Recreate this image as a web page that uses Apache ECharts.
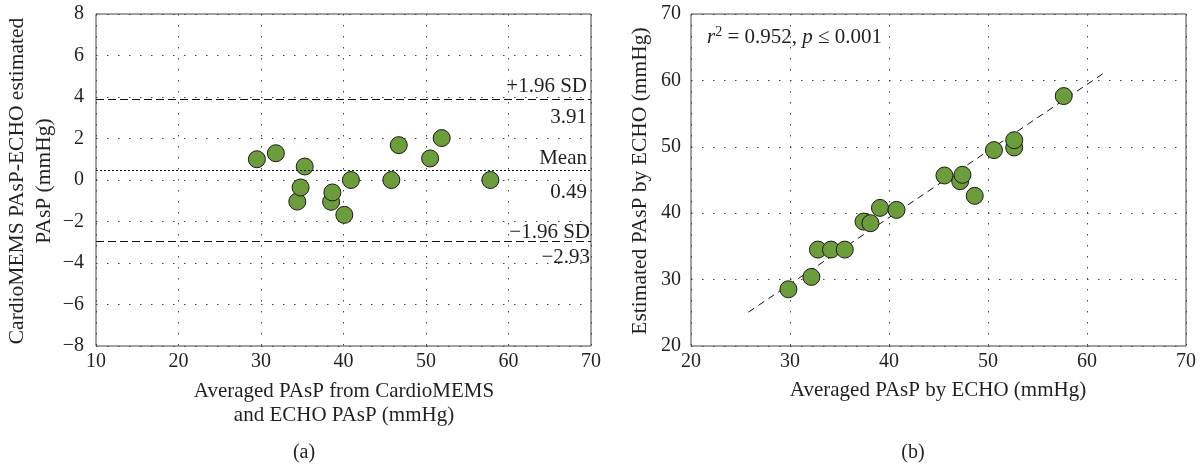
<!DOCTYPE html>
<html>
<head>
<meta charset="utf-8">
<script src="https://cdn.jsdelivr.net/npm/echarts@6/dist/echarts.min.js"></script>
<style>
html,body{margin:0;padding:0;background:#fff;}
#c{width:1202px;height:465px;}
</style>
</head>
<body>
<div id="c"></div>
<script>
// Panel (a): Bland-Altman
const baX = [29.5, 31.8, 35.3, 34.4, 34.8, 38.5, 38.65, 40.1, 40.9, 45.8, 46.7, 50.5, 51.9, 57.8];
const baY = [1.0, 1.29, 0.65, -1.04, -0.36, -1.05, -0.6, -1.68, 0, 0, 1.68, 1.04, 2.02, 0];
const upperLoA = 3.91;
const meanDiff = 0.49;
const lowerLoA = -2.93;

// Panel (b): correlation
const corrX = [29.84, 32.16, 32.82, 34.14, 35.53, 37.43, 38.13, 39.09, 40.76, 45.6, 47.19, 47.42, 48.66, 50.6, 52.65, 52.65, 57.65];
const corrY = [28.54, 30.4, 34.52, 34.52, 34.52, 38.74, 38.49, 40.8, 40.5, 45.68, 44.82, 45.78, 42.61, 49.5, 49.9, 51.0, 57.64];
const fitLine = [[25.8, 25.1], [61.6, 61.0]];

const FONT = '"Liberation Serif", "DejaVu Serif", serif';
const GREEN = '#6c9c3c';
const TXT = '#231f20';

const pairs = (xs, ys) => xs.map((x, i) => [x, ys[i]]);
const minusFmt = v => String(v).replace('-', '\u2212');

const gridLine = {show: true, lineStyle: {color: '#444', type: [1.5, 9.5], width: 1}};
const axisBase = {
  axisLine: {show: false},
  axisTick: {show: false},
  splitLine: gridLine,
  axisLabel: {color: TXT, fontFamily: FONT, fontSize: 20, formatter: minusFmt}
};
const hidden = {color: 'rgba(0,0,0,0)', width: 0};

const chart = echarts.init(document.getElementById('c'));
chart.setOption({
  backgroundColor: '#fff',
  animation: false,
  grid: [
    {left: 96, top: 14, width: 495, height: 332, show: true, borderColor: '#444', borderWidth: 1, backgroundColor: 'transparent'},
    {left: 691, top: 14, width: 495, height: 332, show: true, borderColor: '#444', borderWidth: 1, backgroundColor: 'transparent'}
  ],
  xAxis: [
    Object.assign({}, axisBase, {gridIndex: 0, type: 'value', min: 10, max: 70, interval: 10,
      axisLabel: Object.assign({}, axisBase.axisLabel, {margin: 6})}),
    Object.assign({}, axisBase, {gridIndex: 1, type: 'value', min: 20, max: 70, interval: 10,
      axisLabel: Object.assign({}, axisBase.axisLabel, {margin: 6})})
  ],
  yAxis: [
    Object.assign({}, axisBase, {gridIndex: 0, type: 'value', min: -8, max: 8, interval: 2,
      axisLabel: Object.assign({}, axisBase.axisLabel, {margin: 12})}),
    Object.assign({}, axisBase, {gridIndex: 1, type: 'value', min: 20, max: 70, interval: 10,
      axisLabel: Object.assign({}, axisBase.axisLabel, {margin: 10})})
  ],
  series: [
    {
      type: 'scatter', xAxisIndex: 0, yAxisIndex: 0, z: 3,
      data: pairs(baX, baY),
      symbolSize: 17,
      itemStyle: {color: GREEN, borderColor: '#1a1a1a', borderWidth: 1, opacity: 1},
      markLine: {
        symbol: 'none', silent: true, animation: false,
        label: {fontFamily: FONT, fontSize: 21, color: TXT},
        data: [
          {yAxis: upperLoA, lineStyle: {color: '#111', type: [8, 4], width: 1},
            label: {formatter: '+1.96 SD', position: 'insideEndTop', distance: [4, 2]}},
          {yAxis: upperLoA, lineStyle: hidden,
            label: {formatter: upperLoA.toFixed(2), position: 'insideEndBottom', distance: [4, 8], color: TXT}},
          {yAxis: meanDiff, lineStyle: {color: '#111', type: [2, 2], width: 1},
            label: {formatter: 'Mean', position: 'insideEndTop', distance: [4, 1]}},
          {yAxis: meanDiff, lineStyle: hidden,
            label: {formatter: meanDiff.toFixed(2), position: 'insideEndBottom', distance: [4, 12], color: TXT}},
          {yAxis: lowerLoA, lineStyle: {color: '#111', type: [8, 4], width: 1},
            label: {formatter: '\u22121.96 SD', position: 'insideEndTop', distance: [1, -2]}},
          {yAxis: lowerLoA, lineStyle: hidden,
            label: {formatter: minusFmt(lowerLoA.toFixed(2)), position: 'insideEndBottom', distance: [1, 6], color: TXT}}
        ]
      }
    },
    {
      type: 'line', xAxisIndex: 1, yAxisIndex: 1, z: 2,
      data: fitLine, symbol: 'none', silent: true,
      lineStyle: {color: '#111', type: [7, 5], width: 1}
    },
    {
      type: 'scatter', xAxisIndex: 1, yAxisIndex: 1, z: 3,
      data: pairs(corrX, corrY),
      symbolSize: 17,
      itemStyle: {color: GREEN, borderColor: '#1a1a1a', borderWidth: 1, opacity: 1}
    }
  ],
  graphic: [
    {type: 'text', x: 30.5, y: 181, rotation: Math.PI / 2,
      style: {text: 'CardioMEMS PAsP-ECHO estimated\nPAsP (mmHg)', fontFamily: FONT, fontSize: 21.5, fill: TXT,
        align: 'center', verticalAlign: 'middle', lineHeight: 27}},
    {type: 'text', x: 344, y: 403.5,
      style: {text: 'Averaged PAsP from CardioMEMS\nand ECHO PAsP (mmHg)', fontFamily: FONT, fontSize: 21, fill: TXT,
        align: 'center', verticalAlign: 'middle', lineHeight: 23.5}},
    {type: 'text', x: 304, y: 453,
      style: {text: '(a)', fontFamily: FONT, fontSize: 20, fill: TXT, align: 'center', verticalAlign: 'middle'}},
    {type: 'text', x: 640, y: 181, rotation: Math.PI / 2,
      style: {text: 'Estimated PAsP by ECHO (mmHg)', fontFamily: FONT, fontSize: 21.5, fill: TXT,
        align: 'center', verticalAlign: 'middle'}},
    {type: 'text', x: 938, y: 390,
      style: {text: 'Averaged PAsP by ECHO (mmHg)', fontFamily: FONT, fontSize: 21, fill: TXT,
        align: 'center', verticalAlign: 'middle'}},
    {type: 'text', x: 913, y: 453,
      style: {text: '(b)', fontFamily: FONT, fontSize: 20, fill: TXT, align: 'center', verticalAlign: 'middle'}},
    {type: 'text', x: 707, y: 37, z: 10,
      style: {
        text: '{i|r}{s|2}{n| = 0.952, }{i|p}{n| \u2264 0.001}',
        align: 'left', verticalAlign: 'middle',
        rich: {
          i: {fontFamily: FONT, fontSize: 21, fontStyle: 'italic', fill: TXT},
          n: {fontFamily: FONT, fontSize: 21, fill: TXT},
          s: {fontFamily: FONT, fontSize: 14, fill: TXT, verticalAlign: 'top', padding: [0, 0, 10, 0]}
        }
      }}
  ]
});
</script>
</body>
</html>
